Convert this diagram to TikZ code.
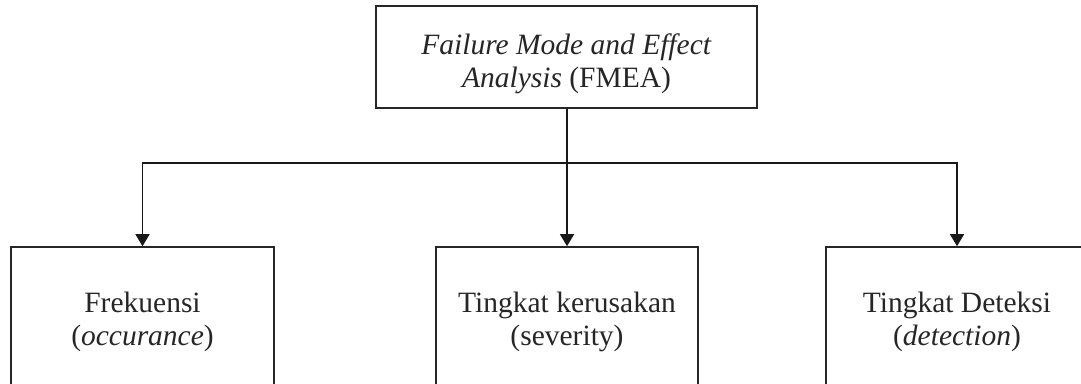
\documentclass[tikz,border=0pt]{standalone}
\usepackage{fontspec}
\setmainfont{Liberation Serif}
\usetikzlibrary{arrows.meta}

\tikzset{
    kotak/.style={draw=black!85, line width=1.6pt, inner sep=0pt},
    teks/.style={text=black!85, align=center, font=\fontsize{29.5}{33}\selectfont, inner sep=0pt},
    panah/.style={line width=1.4pt, draw=black!90, -{Triangle[width=14pt,length=12pt]}},
    garis/.style={line width=1.4pt, draw=black!90}
}

\begin{document}
\begin{tikzpicture}[x=1pt, y=-1pt]
            \useasboundingbox (0, 0) rectangle (1081, 383);

            % kotak
            \node[kotak, minimum width=381pt, minimum height=102pt] (fmea) at (566.5, 57) {};
            \node[kotak, minimum width=263pt, minimum height=164pt] (frek) at (142.5, 329) {};
            \node[kotak, minimum width=262pt, minimum height=164pt] (keru) at (567, 329) {};
            \node[kotak, minimum width=262pt, minimum height=164pt] (dete) at (957, 329) {};

            % teks
            \node[teks] (fmea-t) at (566.5, 64) {\textit{Failure Mode and Effect}\\\textit{Analysis} (FMEA)};
            \node[teks] (frek-t) at (142.5, 322) {Frekuensi\\(\textit{occurance})};
            \node[teks] (keru-t) at (567, 322) {Tingkat kerusakan\\(severity)};
            \node[teks] (dete-t) at (957, 322) {Tingkat Deteksi\\(\textit{detection})};

            \coordinate (cabang) at (567, 163);

            \draw[garis] (fmea.south -| cabang) -- (cabang);
            \draw[panah] (cabang) -| (frek.north);
            \draw[panah] (cabang) -- (keru.north);
            \draw[panah] (cabang) -| (dete.north);
        \end{tikzpicture}
\end{document}
